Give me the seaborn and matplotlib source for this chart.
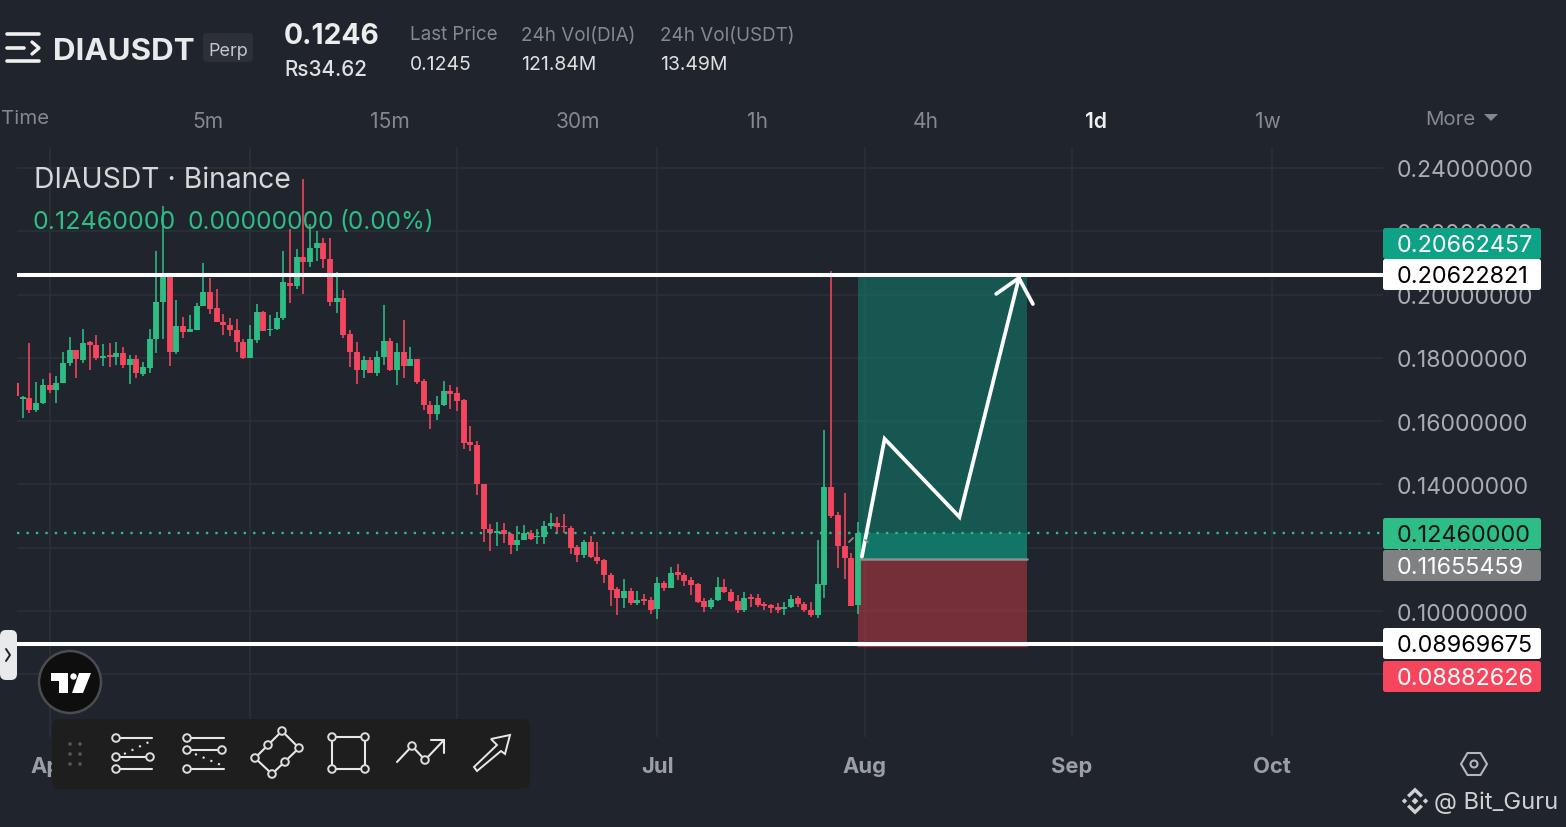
import matplotlib
matplotlib.use("Agg")
import matplotlib.pyplot as plt
from matplotlib.patches import Rectangle, FancyBboxPatch, Circle, Polygon
import pandas as pd
import seaborn as sns

# ---------- data ----------
first_day = -5  # days relative to 1 April
opens = [.1720,.1670,.1673,.1636,.1657,.1714,.1699,.1720,.1784,.1824,.1794,.1849,.1840,.1799,.1809,.1803,.1815,.1778,.1797,.1750,
         .1768,.1858,.1976,.2058,.1819,.1902,.1882,.1889,.1963,.2008,.1957,.1912,.1903,.1889,.1849,.1800,.1855,.1945,.1887,.1892,
         .1926,.2037,.2026,.2118,.2102,.2146,.2163,.2113,.1977,.1989,.1875,.1817,.1762,.1792,.1753,.1803,.1852,.1761,.1819,.1774,
         .1796,.1726,.1651,.1623,.1650,.1695,.1688,.1667,.1534,.1524,.1401,.1259,.1246,.1255,.1244,.1210,.1223,.1245,.1233,.1233,
         .1270,.1279,.1270,.1263,.1202,.1178,.1217,.1171,.1160,.1114,.1069,.1041,.1064,.1025,.1039,.1035,.1006,.1088,.1072,.1122,
         .1115,.1099,.1085,.1033,.1012,.1035,.1076,.1061,.1033,.1002,.1044,.1041,.1021,.1019,.1012,.1007,.1012,.1040,.1023,.1004,
         .0986,.1081,.1391,.1303,.1204,.1169,.1018]
highs = [.1725,.1678,.1847,.1723,.1733,.1752,.1741,.1817,.1866,.1824,.1891,.1852,.1872,.1843,.1847,.1850,.1833,.1809,.1810,.1786,
         .1891,.2138,.2280,.2064,.1982,.1929,.1936,.1972,.2101,.2053,.2018,.1937,.1926,.1923,.1860,.1903,.1971,.1947,.1936,.1944,
         .2139,.2208,.2144,.2366,.2224,.2202,.2179,.2178,.2070,.2015,.1889,.1850,.1806,.1804,.1820,.1968,.1862,.1846,.1919,.1833,
         .1796,.1734,.1663,.1679,.1727,.1714,.1709,.1669,.1584,.1537,.1401,.1275,.1280,.1279,.1247,.1270,.1272,.1257,.1260,.1285,
         .1310,.1296,.1305,.1268,.1208,.1223,.1236,.1217,.1164,.1120,.1076,.1101,.1072,.1064,.1055,.1043,.1107,.1096,.1138,.1150,
         .1120,.1107,.1090,.1041,.1041,.1106,.1101,.1069,.1051,.1060,.1055,.1055,.1030,.1023,.1025,.1027,.1050,.1046,.1030,.1027,
         .1224,.1571,.2075,.1312,.1373,.1182,.1280]
lows = [.1673,.1609,.1627,.1628,.1655,.1690,.1657,.1720,.1773,.1736,.1784,.1762,.1792,.1775,.1770,.1776,.1768,.1717,.1735,.1741,
        .1752,.1815,.1858,.1773,.1813,.1863,.1881,.1889,.1963,.1937,.1912,.1873,.1868,.1817,.1796,.1800,.1847,.1886,.1868,.1889,
        .1920,.1973,.2017,.2002,.2086,.2107,.2083,.1965,.1941,.1864,.1772,.1718,.1735,.1753,.1741,.1778,.1759,.1714,.1737,.1774,
        .1718,.1634,.1574,.1605,.1648,.1637,.1632,.1512,.1505,.1367,.1219,.1190,.1204,.1215,.1181,.1191,.1223,.1223,.1213,.1213,
        .1260,.1245,.1245,.1181,.1154,.1168,.1169,.1148,.1088,.1016,.0989,.1010,.1020,.1020,.1020,.0991,.0975,.1062,.1072,.1099,
        .1078,.1051,.1025,.0998,.1007,.1033,.1057,.1028,.0995,.0998,.1014,.1012,.1004,.0995,.0995,.0986,.1011,.1012,.0998,.0981,
        .0979,.1042,.1293,.1137,.1100,.1016,.0991]
closes = [.1678,.1676,.1636,.1657,.1714,.1699,.1720,.1784,.1824,.1796,.1847,.1842,.1799,.1807,.1803,.1815,.1778,.1797,.1752,.1770,
          .1860,.1976,.2058,.1819,.1900,.1883,.1891,.1965,.2008,.1955,.1912,.1903,.1887,.1849,.1800,.1858,.1945,.1886,.1892,.1926,
          .2039,.2026,.2118,.2102,.2147,.2163,.2113,.1975,.1989,.1873,.1817,.1762,.1792,.1753,.1804,.1852,.1760,.1819,.1774,.1796,
          .1724,.1651,.1623,.1650,.1695,.1685,.1664,.1531,.1524,.1401,.1259,.1246,.1253,.1244,.1210,.1224,.1247,.1228,.1238,.1270,
          .1279,.1265,.1266,.1199,.1178,.1217,.1170,.1157,.1113,.1067,.1041,.1064,.1025,.1035,.1033,.1004,.1088,.1072,.1120,.1115,
          .1096,.1082,.1029,.1012,.1035,.1076,.1059,.1032,.1004,.1040,.1038,.1019,.1016,.1010,.1004,.1013,.1038,.1021,.1004,.0986,
          .1084,.1391,.1301,.1206,.1169,.1016,.1246]

price_ticks = [.24, .22, .20, .18, .16, .14, .12, .10, .08]
month_days = [0, 30, 61, 91, 122, 153, 183]
month_labels = ["Apr", "May", "Jun", "Jul", "Aug", "Sep", "Oct"]

last_price = 0.1246
resistance = 0.20622821
support = 0.08969675
target_price = 0.20662457
entry_price = 0.11655459
stop_price = 0.08882626
position_start, position_end = 121, 146.3

path_days = [121.6, 125, 136.2, 145.1]
path_prices = [0.1172, 0.1544, 0.1297, 0.2052]
head_days = [141.7, 145.1, 147.2]
head_prices = [0.2002, 0.2052, 0.1970]

tab_labels = ["5m", "15m", "30m", "1h", "4h", "1d", "1w"]

# ---------- style ----------
BG = "#1f242d"
GRID = "#2b3039"
GREEN = "#2ebd85"
RED = "#f6465d"
sns.set_theme(style="darkgrid", rc={
    "figure.facecolor": BG, "axes.facecolor": BG, "grid.color": GRID,
    "grid.linewidth": 1.2, "axes.axisbelow": True,
})
plt.rcParams["font.family"] = ["Inter", "DejaVu Sans"]

W, H = 1566, 828
fig = plt.figure(figsize=(W / 100, H / 100), dpi=100, facecolor=BG)
ax = fig.add_axes([17 / W, 1 - 738 / H, (1383 - 17) / W, (738 - 148) / H])

days = list(range(first_day, first_day + len(opens)))
direction = ["up" if c >= o else "down" for o, c in zip(opens, closes)]
candles = pd.DataFrame({"day": days, "open": opens, "high": highs, "low": lows,
                        "close": closes, "dir": direction})
wicks = candles.melt(id_vars=["day", "dir"], value_vars=["high", "low"], value_name="price")
bodies = candles.melt(id_vars=["day", "dir"], value_vars=["open", "close"], value_name="price")
palette = {"up": GREEN, "down": RED}

span = position_end - position_start
ax.add_patch(Rectangle((position_start, entry_price), span, target_price - entry_price,
                       fc="#0e8a76", alpha=.5, lw=0, zorder=1))
ax.add_patch(Rectangle((position_start, entry_price), span, last_price - entry_price,
                       fc="#0e8a76", alpha=.6, lw=0, zorder=1))
ax.add_patch(Rectangle((position_start, stop_price), span, entry_price - stop_price,
                       fc="#cc3a45", alpha=.5, lw=0, zorder=1))
ax.plot([position_start, position_end], [entry_price] * 2, color="#8a8f90", lw=1.8, zorder=1.5)
ax.plot([position_start, position_end], [stop_price] * 2, color="#a8313f", lw=1.6, zorder=1.5)

sns.lineplot(data=wicks, x="day", y="price", hue="dir", units="day", estimator=None,
             palette=palette, linewidth=1.15, legend=False, ax=ax, solid_capstyle="butt")
sns.lineplot(data=bodies, x="day", y="price", hue="dir", units="day", estimator=None,
             palette=palette, linewidth=4.2, legend=False, ax=ax, solid_capstyle="butt")

ax.axhline(last_price, color=GREEN, lw=1.7, ls=(0, (1, 3)), zorder=2.2)
ax.axhline(resistance, color="white", lw=2.9, zorder=3)
ax.axhline(support, color="white", lw=2.9, zorder=3)
ax.plot(path_days, path_prices, color="white", lw=2.7, zorder=4, solid_joinstyle="miter")
ax.plot(head_days, head_prices, color="white", lw=2.7, zorder=4, solid_joinstyle="miter")

ax.set_xlim(-4.87, 199.6)
ax.set_ylim(0.0602, 0.2466)
ax.set_xlabel("")
ax.set_ylabel("")
ax.yaxis.tick_right()
ax.set_yticks(price_ticks, [f"{p:.8f}" for p in price_ticks])
ax.set_xticks(month_days, month_labels)
ax.tick_params(axis="y", length=0, pad=10, labelsize=16.5, labelcolor="#a9acb1")
ax.tick_params(axis="x", length=0, pad=14, labelsize=15.8, labelcolor="#9b9ea3")
for lab in ax.get_xticklabels():
    lab.set_fontweight("bold")
for s in ax.spines.values():
    s.set_visible(False)
ax.grid(True)

# ---------- interface overlay, in screen pixels ----------
ui = fig.add_axes([0, 0, 1, 1], facecolor="none", zorder=5)
ui.set_xlim(0, W)
ui.set_ylim(H, 0)
ui.axis("off")


def txt(x, y, s, size, color, weight="normal", ha="left", **kw):
    ui.text(x, y + 2, s, fontsize=size * .72, color=color, fontweight=weight, ha=ha, va="center", **kw)


def box(x0, y0, x1, y1, fc, r=3, ec="none", lw=0, z=2):
    ui.add_patch(FancyBboxPatch((x0 + r, y0 + r), x1 - x0 - 2 * r, y1 - y0 - 2 * r,
                                boxstyle=f"round,pad={r},rounding_size={r}", fc=fc, ec=ec, lw=lw, zorder=z))


def seg(xs, ys, color="#e6e7e8", lw=1.5, z=4, **kw):
    ui.plot(xs, ys, color=color, lw=lw, zorder=z, solid_capstyle="round", **kw)


def ring(x, y, r=5, z=5, ec="#dcdddf", fc="#1f1f1f"):
    ui.add_patch(Circle((x, y), r, fc=fc, ec=ec, lw=1.4, zorder=z))


# header
seg([7, 39], [35, 35], "#f0f0f0", 2.6)
seg([7, 24], [48.5, 48.5], "#f0f0f0", 2.6)
seg([7, 39], [62, 62], "#f0f0f0", 2.6)
seg([32, 39, 32], [43, 49, 55], "#f0f0f0", 2.4)
txt(53, 50, "DIAUSDT", 31.3, "#e9eaeb", "bold")
box(203, 34, 253, 63, "#2c3139", r=4)
txt(228, 49, "Perp", 18, "#c4c6c9", ha="center", zorder=5)
txt(284, 35, "0.1246", 28.3, "#eceded", "bold")
txt(284, 68, "Rs34.62", 20.7, "#e0e1e2", "medium")
for x, top, bottom in [(410, "Last Price", "0.1245"), (521, "24h Vol(DIA)", "121.84M"), (660, "24h Vol(USDT)", "13.49M")]:
    txt(x, 33.5, top, 18.8, "#85888d")
    txt(x, 63.5, bottom, 19.4, "#dfe0e1")

# interval tabs
txt(1, 117, "Time", 20.5, "#85888d")
for label, x in zip(tab_labels, [208, 390, 578, 757, 926, 1096, 1268]):
    active = label == "1d"
    txt(x, 120, label, 21, "#f0f0f0" if active else "#85888d", "semibold" if active else "normal", ha="center")
txt(1450, 118, "More", 20.5, "#85888d", ha="center")
ui.add_patch(Polygon([(1484, 115), (1498, 115), (1491, 122)], fc="#85888d", lw=0))

# chart legend
txt(34, 179, "DIAUSDT · Binance", 28.3, "#d6d7d9")
txt(33, 221, "0.12460000", 25, GREEN)
txt(187.5, 221, "0.00000000", 24.6, GREEN)
txt(339, 221, "(0.00%)", 24.2, GREEN)

# price tags
for y0, y1, fc, tc, label in [(229, 260, "#0ea386", "white", "0.20662457"),
                              (260, 291, "white", "black", "0.20622821"),
                              (519, 550, "#2ebd85", "#101418", "0.12460000"),
                              (551, 582, "#808183", "white", "0.11655459"),
                              (629, 660, "white", "black", "0.08969675"),
                              (662, 693, "#f6465d", "white", "0.08882626")]:
    box(1383, y0, 1541, y1, fc, r=2.5)
    txt(1397, (y0 + y1) / 2 - .5, label, 23.4, tc, zorder=5)

# small handle marks beside the last candle
seg([849, 853], [543, 539], "#8a8d92", 1.3, z=2)
seg([865, 868], [541, 543], "#8a8d92", 1.3, z=2)

# collapse handle
box(0, 631, 17, 681, "#e8eaec", r=6)
seg([6, 10, 6], [650, 656, 662], "#222", 1.4, z=5)

# TradingView badge
ui.add_patch(Circle((70, 683), 31, fc="#0e0e0f", ec="#4a4c50", lw=1.8, zorder=3))
ui.add_patch(Polygon([(51, 674), (68, 674), (68, 694), (59, 694), (59, 682), (51, 682)], fc="white", lw=0, zorder=4))
ui.add_patch(Circle((73.5, 677.5), 3.2, fc="white", lw=0, zorder=4))
ui.add_patch(Polygon([(79, 674), (91, 674), (83, 694), (72, 694)], fc="white", lw=0, zorder=4))

# drawing toolbar
box(52, 720, 530, 790, "#1e1e1e", r=8, z=3)
for dx in (70, 80):
    for dy in (745, 755, 765):
        ui.add_patch(Circle((dx, dy), 1.8, fc="#55575a", lw=0, zorder=4))
seg([116, 152], [739, 739]); seg([116, 150], [758, 758]); seg([116, 152], [770, 770])
seg([124, 149], [755, 743], ls=(0, (1, 3)))
for c in [(116, 739), (116, 758), (150, 758), (116, 770)]:
    ring(*c, r=3.8)
seg([187, 224], [739, 739]); seg([187, 222], [751, 751]); seg([187, 224], [770, 770])
seg([195, 221], [755, 766], ls=(0, (1, 3)))
for c in [(187, 739), (187, 751), (222, 751), (187, 770)]:
    ring(*c, r=3.8)
seg([282, 299, 272, 255, 282], [732, 749, 775, 759, 732])
for c in [(282, 732), (299, 749), (285, 763), (272, 775), (255, 759), (268, 746)]:
    ring(*c, r=3.8)
seg([332, 365, 365, 332, 332], [738, 738, 770, 770, 738])
for c in [(332, 738), (365, 738), (365, 770), (332, 770)]:
    ring(*c, r=3.8)
seg([397, 412, 425, 444], [763, 747, 761, 741])
seg([431, 444, 444], [741, 741, 754])
for c in [(412, 747), (425, 761)]:
    ring(*c, r=3.8)
ui.add_patch(Polygon([(510, 736), (491, 740), (497, 746), (474, 768), (477, 772), (501, 752), (505, 755)],
                     fc="none", ec="#e6e7e8", lw=1.4, zorder=4))

# footer
hx, hy = 1474, 765
ui.add_patch(Polygon([(hx - 13, hy), (hx - 6.5, hy - 11), (hx + 6.5, hy - 11), (hx + 13, hy), (hx + 6.5, hy + 11), (hx - 6.5, hy + 11)],
                     fc="none", ec="#b4b6ba", lw=1.5, zorder=4))
ui.add_patch(Circle((hx, hy), 3.5, fc="none", ec="#b4b6ba", lw=1.5, zorder=4))
bx, by = 1415, 802
for dx, s in [(-10.5, 2.7), (0, 3.4), (10.5, 2.7)]:
    ui.add_patch(Polygon([(bx + dx - s, by), (bx + dx, by - s), (bx + dx + s, by), (bx + dx, by + s)], fc="#d0d1d3", lw=0, zorder=4))
for sgn in (-1, 1):
    ui.add_patch(Polygon([(bx, by + sgn * 13.5), (bx + 8, by + sgn * 5.8), (bx + 5.6, by + sgn * 3.4), (bx, by + sgn * 8.8),
                          (bx - 5.6, by + sgn * 3.4), (bx - 8, by + sgn * 5.8)], fc="#d0d1d3", lw=0, zorder=4))
txt(1434, 800.5, "@ Bit_Guru", 23.7, "#cfd0d2")

fig.savefig("out.png", dpi=100, facecolor=BG)
